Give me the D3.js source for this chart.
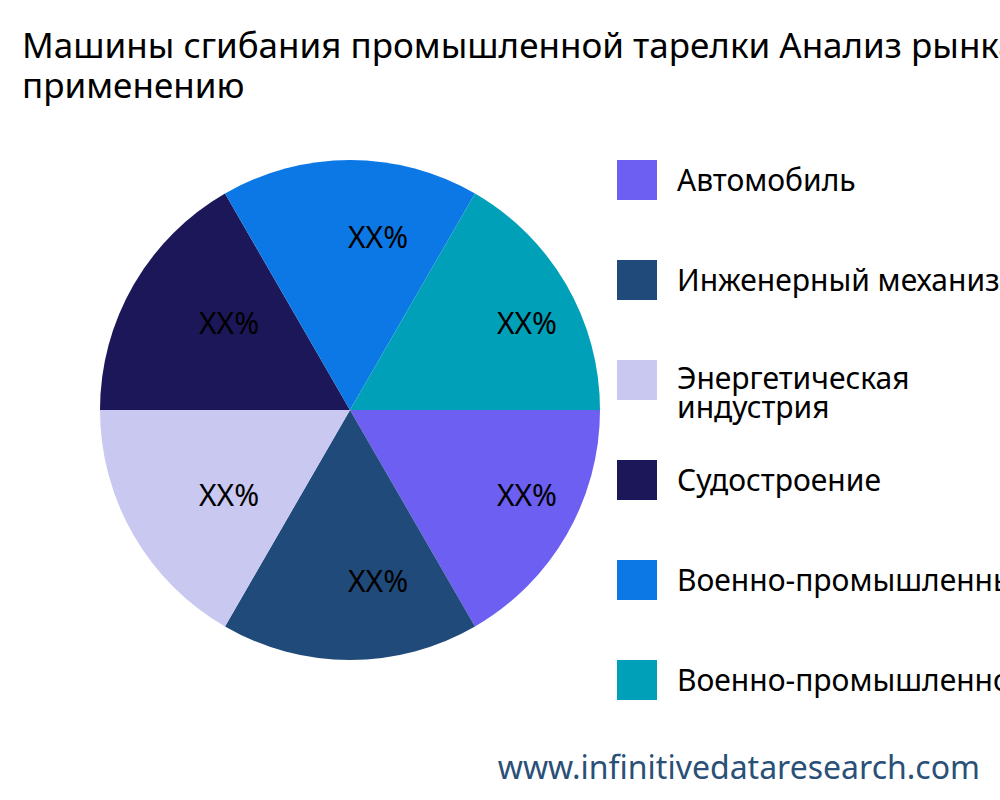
<!DOCTYPE html>
<html><head><meta charset="utf-8">
<script src="https://cdn.jsdelivr.net/npm/d3@7"></script>
<style>body{margin:0;background:#fff}text{font-family:"Noto Sans","Open Sans",sans-serif}</style>
</head><body>
<svg width="1000" height="800"></svg>
<script>
const categories = ["Автомобиль", "Инженерный механизм", "Энергетическая индустрия", "Судостроение", "Военно-промышленный комплекс", "Военно-промышленность"];
const legendLines = [["Автомобиль"], ["Инженерный механизм"], ["Энергетическая", "индустрия"], ["Судостроение"], ["Военно-промышленный комплекс"], ["Военно-промышленность"]];
const values = [1, 1, 1, 1, 1, 1];
const labels = ["XX%", "XX%", "XX%", "XX%", "XX%", "XX%"];
const colors = ["#6c5ff2", "#1f4a7a", "#c8c8f0", "#1c1758", "#0c78e6", "#00a0b8"];

const svg = d3.select("svg");
svg.append("text").attr("x", 22).attr("y", 58).attr("font-size", 35).text("Машины сгибания промышленной тарелки Анализ рынка по");
svg.append("text").attr("x", 22).attr("y", 98).attr("font-size", 35).text("применению");

const pie = d3.pie().sort(null).startAngle(Math.PI / 2).endAngle(Math.PI / 2 + 2 * Math.PI);
const arcs = pie(values);
const arc = d3.arc().innerRadius(0).outerRadius(250);
const labelArc = d3.arc().innerRadius(172).outerRadius(172);
const g = svg.append("g").attr("transform", "translate(350,410)");
g.selectAll("path").data(arcs).enter().append("path")
  .attr("d", arc).attr("fill", (d, i) => colors[i]);
g.selectAll("text").data(arcs).enter().append("text")
  .attr("transform", d => `translate(${labelArc.centroid(d)})`)
  .attr("font-size", 30).attr("dx", -2).attr("dy", 10)
  .text((d, i) => labels[i]);

const lg = svg.append("g");
legendLines.forEach((lines, i) => {
  const y = 160 + i * 100;
  lg.append("rect").attr("x", 617).attr("y", y).attr("width", 40).attr("height", 40).attr("fill", colors[i]);
  const t = lg.append("text").attr("x", 677).attr("font-size", 30)
    .attr("y", lines.length > 1 ? y + 30 : y + 31);
  lines.forEach((l, j) => t.append("tspan").attr("x", 677).attr("dy", j ? 29 : (lines.length > 1 ? -1 : 0)).text(l));
});

svg.append("text").attr("x", 980).attr("y", 779).attr("text-anchor", "end")
  .attr("font-size", 32).attr("fill", "#2a5077").text("www.infinitivedataresearch.com");
</script>
</body></html>
